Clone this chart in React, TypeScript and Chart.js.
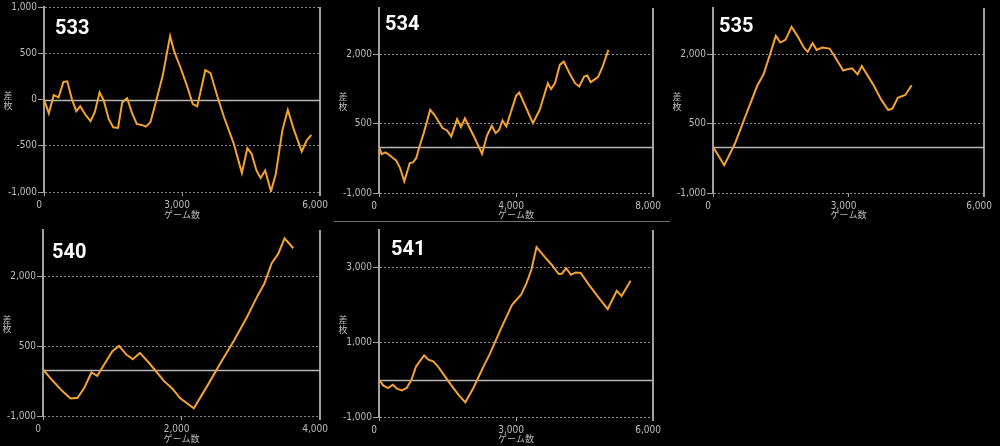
import React, { useEffect, useRef } from 'react';
import { Chart, registerables } from 'chart.js';

Chart.register(...registerables);

// ---- data ----
const games533 = [0, 105, 211, 316, 422, 506, 611, 703, 787, 906, 1012, 1103, 1208, 1300, 1405, 1504, 1609, 1700, 1806, 1911, 2016, 2122, 2213, 2312, 2438, 2579, 2740, 2825, 2965, 3106, 3232, 3330, 3506, 3618, 3773, 3913, 4124, 4300, 4419, 4511, 4616, 4707, 4806, 4932, 5038, 5178, 5298, 5424, 5600, 5705, 5810];
const diff533 = [0, -150, 47, 22, 190, 197, -6, -126, -72, -170, -235, -138, 77, -13, -210, -300, -307, -31, 13, -145, -264, -275, -293, -246, -13, 256, 687, 526, 346, 149, -49, -74, 318, 286, 24, -192, -479, -795, -526, -587, -767, -849, -767, -993, -802, -336, -113, -318, -562, -443, -382];
const xTicks533 = [0, 3000, 6000];
const yTicks533 = [-1000, -500, 0, 500, 1000];

const games534 = [0, 76, 189, 293, 407, 501, 615, 738, 898, 993, 1087, 1182, 1305, 1494, 1617, 1853, 1986, 2109, 2279, 2392, 2506, 2771, 3007, 3149, 3291, 3404, 3508, 3603, 3716, 4000, 4094, 4492, 4690, 4927, 5022, 5135, 5277, 5390, 5560, 5721, 5844, 5986, 6080, 6175, 6392, 6525, 6695];
const diff534 = [0, -158, -122, -173, -245, -295, -460, -748, -352, -338, -245, 7, 295, 799, 691, 403, 353, 223, 597, 424, 612, 223, -151, 237, 453, 295, 367, 568, 439, 1101, 1173, 511, 799, 1374, 1245, 1374, 1770, 1842, 1590, 1374, 1302, 1518, 1540, 1396, 1504, 1734, 2094];
const xTicks534 = [0, 4000, 8000];
const yTicks534 = [-1000, 500, 2000];

const games535 = [0, 249, 477, 691, 976, 1119, 1275, 1390, 1489, 1603, 1739, 1867, 2010, 2095, 2202, 2295, 2416, 2580, 2687, 2879, 3078, 3200, 3292, 3542, 3720, 3877, 3969, 4090, 4254, 4397];
const diff535 = [0, -400, 48, 590, 1313, 1566, 2036, 2398, 2253, 2311, 2593, 2398, 2145, 2051, 2239, 2094, 2145, 2123, 1964, 1653, 1696, 1566, 1747, 1349, 1024, 793, 822, 1060, 1118, 1328];
const xTicks535 = [0, 3000, 6000];
const yTicks535 = [-1000, 500, 2000];

const games540 = [0, 140, 280, 396, 499, 597, 699, 783, 876, 1002, 1096, 1203, 1296, 1399, 1538, 1748, 1865, 1981, 2177, 2378, 2564, 2751, 2937, 3100, 3194, 3301, 3394, 3487, 3613];
const diff540 = [0, -243, -464, -621, -607, -393, -64, -136, 93, 393, 507, 321, 221, 357, 129, -250, -407, -621, -836, -336, 143, 607, 1107, 1593, 1843, 2286, 2486, 2821, 2607];
const xTicks540 = [0, 2000, 4000];
const yTicks540 = [-1000, 500, 2000];

const games541 = [0, 92, 197, 303, 395, 501, 606, 712, 811, 987, 1079, 1185, 1290, 1572, 1749, 1890, 2066, 2277, 2419, 2665, 2912, 3110, 3229, 3335, 3448, 3617, 3779, 3934, 4004, 4097, 4202, 4308, 4414, 4604, 4816, 5006, 5204, 5309, 5507];
const diff541 = [0, -154, -225, -136, -243, -287, -225, -2, 354, 648, 532, 488, 354, -136, -421, -608, -225, 327, 666, 1352, 2002, 2269, 2581, 2938, 3543, 3294, 3071, 2822, 2831, 2982, 2804, 2866, 2849, 2519, 2180, 1886, 2376, 2234, 2644];
const xTicks541 = [0, 3000, 6000];
const yTicks541 = [-1000, 1000, 3000];

const X_TITLE = 'ゲーム数';
const Y_TITLE = '差枚';

// ---- styles ----
const LINE = '#f4a32e';
const AXIS = '#a0a0a0';
const GRID = 'rgba(150,150,150,0.9)';
const ZERO = '#b8b8b8';
const TEXT = '#bdbdbd';
const TICK_FONT = "'Liberation Sans Narrow', 'DejaVu Sans Condensed', 'Liberation Sans', sans-serif";
const CJK_FONT = "'Noto Sans CJK JP', sans-serif";
const NUM_FONT = "Roboto, 'Noto Sans', sans-serif";

type Panel = {
  label: string;
  games: number[];
  diff: number[];
  xTicks: number[];
  yTicks: number[];
  yMax: number;
  box: { x: number; y: number; w: number; h: number };
  yAxisW: number;
  xAxisH: number;
  padR: number;
  padT: number;
  tdx: number;
  tdy: number;
};

const panels: Panel[] = [
  { label: '533', games: games533, diff: diff533, xTicks: xTicks533, yTicks: yTicks533, yMax: 1000,
    box: { x: 0, y: 0, w: 336, h: 222 }, yAxisW: 44, xAxisH: 30, padR: 7, padT: 6, tdx: 11, tdy: 27 },
  { label: '534', games: games534, diff: diff534, xTicks: xTicks534, yTicks: yTicks534, yMax: 3000,
    box: { x: 333, y: 0, w: 336, h: 222 }, yAxisW: 46, xAxisH: 29, padR: 8, padT: 8, tdx: 6, tdy: 22 },
  { label: '535', games: games535, diff: diff535, xTicks: xTicks535, yTicks: yTicks535, yMax: 3000,
    box: { x: 666, y: 0, w: 334, h: 222 }, yAxisW: 47, xAxisH: 29, padR: 7, padT: 8, tdx: 6, tdy: 24 },
  { label: '540', games: games540, diff: diff540, xTicks: xTicks540, yTicks: yTicks540, yMax: 3000,
    box: { x: 0, y: 222, w: 336, h: 224 }, yAxisW: 43, xAxisH: 30, padR: 7, padT: 8, tdx: 9, tdy: 28 },
  { label: '541', games: games541, diff: diff541, xTicks: xTicks541, yTicks: yTicks541, yMax: 4000,
    box: { x: 333, y: 222, w: 336, h: 224 }, yAxisW: 46, xAxisH: 29, padR: 6, padT: 8, tdx: 12, tdy: 25 },
];

const fmt = (v: number) => v.toLocaleString('en-US');

const decoPlugin = {
  id: 'panelDeco',
  beforeDatasetsDraw(chart: any, _args: any, opts: any) {
    const { ctx, chartArea } = chart;
    const y0 = Math.round(chart.scales.y.getPixelForValue(0)) + 0.5;
    ctx.save();
    ctx.strokeStyle = ZERO;
    ctx.lineWidth = 1.5;
    ctx.beginPath();
    ctx.moveTo(chartArea.left, y0);
    ctx.lineTo(chartArea.right, y0);
    ctx.stroke();
    ctx.restore();
  },
  afterDraw(chart: any, _args: any, opts: any) {
    const { ctx, chartArea } = chart;
    ctx.save();
    // big panel number
    ctx.fillStyle = '#ffffff';
    ctx.font = `bold 20px ${NUM_FONT}`;
    ctx.textAlign = 'left';
    ctx.textBaseline = 'alphabetic';
    ctx.fillText(opts.label, chartArea.left + opts.tdx, chartArea.top + opts.tdy);
    // vertical y title
    ctx.fillStyle = TEXT;
    ctx.font = `9px ${CJK_FONT}`;
    ctx.textAlign = 'center';
    ctx.textBaseline = 'middle';
    const chars = Array.from(opts.yTitle as string);
    const cx = chartArea.left - 36;
    const mid = (chartArea.top + chartArea.bottom) / 2 + 1;
    const step = 9.5;
    const start = mid - ((chars.length - 1) * step) / 2;
    chars.forEach((c, i) => ctx.fillText(c, cx, start + i * step));
    ctx.restore();
  },
};

function PanelChart({ p }: { p: Panel }) {
  const ref = useRef<HTMLCanvasElement>(null);
  useEffect(() => {
    const canvas = ref.current!;
    const last = p.xTicks.length - 1;
    const chart = new Chart(canvas, {
      type: 'line',
      data: {
        datasets: [
          {
            data: p.games.map((g, i) => ({ x: g, y: p.diff[i] })),
            borderColor: LINE,
            borderWidth: 2,
            pointRadius: 0,
            tension: 0,
            fill: false,
          },
        ],
      },
      options: {
        animation: false,
        responsive: false,
        maintainAspectRatio: false,
        events: [],
        layout: { padding: { left: 0, right: p.padR, top: p.padT, bottom: 0 } },
        plugins: {
          legend: { display: false },
          tooltip: { enabled: false },
          title: { display: false },
          panelDeco: { label: p.label, tdx: p.tdx, tdy: p.tdy, yTitle: Y_TITLE },
        } as any,
        scales: {
          x: {
            type: 'linear',
            min: p.xTicks[0],
            max: p.xTicks[last],
            afterBuildTicks: (s: any) => {
              s.ticks = p.xTicks.map((v) => ({ value: v }));
            },
            afterFit: (s: any) => {
              s.height = p.xAxisH;
            },
            grid: {
              color: (c: any) => (c.index === last ? AXIS : 'transparent'),
              lineWidth: (c: any) => (c.index === last ? 2 : 1),
              tickColor: AXIS,
              tickLength: 4,
              drawTicks: true,
            },
            border: { display: false },
            ticks: {
              color: TEXT,
              font: { size: 10, family: TICK_FONT },
              padding: 3,
              labelOffset: -5,
              maxRotation: 0,
              autoSkip: false,
              callback: (v: any) => fmt(Number(v)),
            },
            title: {
              display: true,
              text: X_TITLE,
              color: TEXT,
              font: { size: 9, family: CJK_FONT },
              padding: { top: 0, bottom: 2 },
            },
          },
          y: {
            type: 'linear',
            min: p.yTicks[0],
            max: p.yMax,
            afterBuildTicks: (s: any) => {
              s.ticks = p.yTicks.map((v) => ({ value: v }));
            },
            afterFit: (s: any) => {
              s.width = p.yAxisW;
            },
            grid: {
              color: (c: any) => (c.tick && c.tick.value === 0 ? 'transparent' : GRID),
              lineWidth: 1,
              tickColor: AXIS,
              tickLength: 6,
              drawTicks: true,
            },
            border: { display: true, color: AXIS, width: 2, dash: [2, 2] },
            ticks: {
              color: TEXT,
              font: { size: 10, family: TICK_FONT },
              padding: 1,
              autoSkip: false,
              callback: (v: any) => fmt(Number(v)),
            },
          },
        },
      },
      plugins: [decoPlugin],
    } as any);
    return () => chart.destroy();
  }, [p]);
  return (
    <canvas
      ref={ref}
      width={p.box.w}
      height={p.box.h}
      style={{ position: 'absolute', left: p.box.x, top: p.box.y, width: p.box.w, height: p.box.h }}
    />
  );
}

export default function App() {
  useEffect(() => {
    document.body.style.margin = '0';
    document.body.style.background = '#000';
  }, []);
  return (
    <div style={{ position: 'absolute', left: 0, top: 0, width: 1000, height: 446, background: '#000', overflow: 'hidden' }}>
      {panels.map((p) => (
        <PanelChart key={p.label} p={p} />
      ))}
      <div style={{ position: 'absolute', left: 334, top: 221, width: 336, height: 1, background: '#6e6e6e' }} />
    </div>
  );
}
